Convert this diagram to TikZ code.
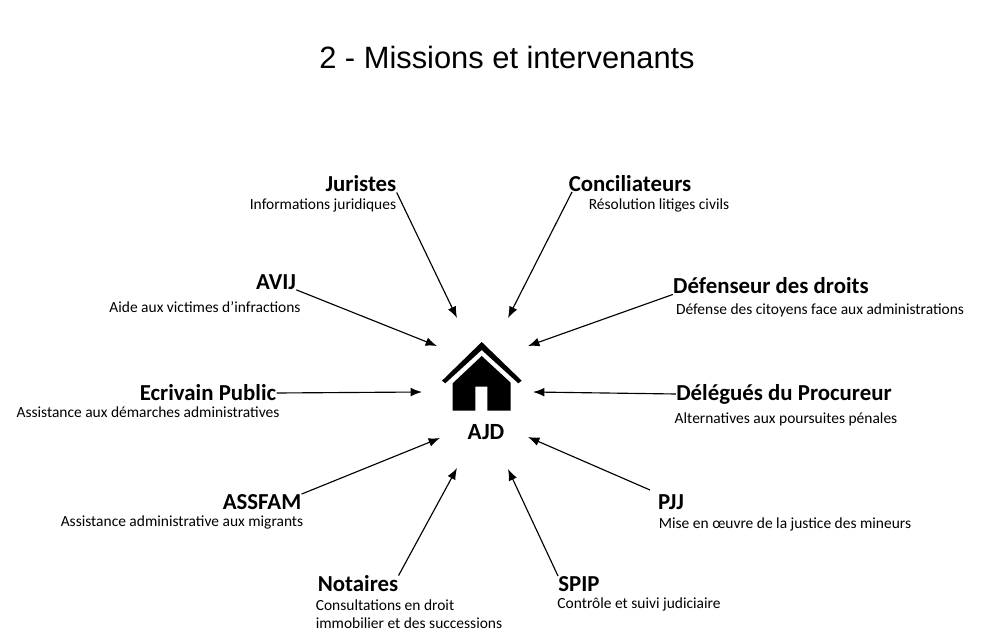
\documentclass[tikz,border=0pt]{standalone}
\usepackage{fontspec}
\setmainfont{Carlito}
\newfontfamily\titlefont{Liberation Sans}
\usetikzlibrary{arrows.meta}

\tikzset{
	titre/.style={inner sep=0pt,font=\bfseries\fontsize{13pt}{15pt}\selectfont},
	detail/.style={inner sep=0pt,align=left,font=\fontsize{8.8pt}{10.5pt}\selectfont},
	fleche/.style={-{Latex[length=6.5pt,width=5pt]},line width=0.65pt}
}

\begin{document}
\begin{tikzpicture}[x=0.2mm,y=-0.2mm]
	\useasboundingbox (0,0) rectangle (1000,635);
	\node (title) at (507,57) [inner sep=0pt,font=\titlefont\fontsize{17.55pt}{20pt}\selectfont] {2 - Missions et intervenants};
	% maison
	\fill (481.7,342) -- (442,380.7) -- (445.3,383.3) -- (481.7,350) -- (518.3,383.3) -- (521.7,380.7) -- cycle;
	\fill (481.7,356) -- (452.7,383.3) -- (452.7,410.7) -- (475.3,410.7) -- (475.3,386.7) -- (487.3,386.7) -- (487.3,410.7) -- (510.7,410.7) -- (510.7,382.7) -- cycle;
	\node (ajd) at (486,432) [titre,font=\bfseries\fontsize{13.2pt}{15pt}\selectfont] {AJD};
	% intervenants
	\node (jur) at (361,184) [titre] {Juristes};
	\node (jurd) at (323,205) [detail] {Informations juridiques};
	\node (con) at (630,184) [titre] {Conciliateurs};
	\node (cond) at (659,205) [detail] {Résolution litiges civils};
	\node (avij) at (276,282) [titre] {AVIJ};
	\node (avijd) at (205,307) [detail] {Aide aux victimes d'infractions};
	\node (def) at (771,286) [titre] {Défenseur des droits};
	\node (defd) at (820,310) [detail] {Défense des citoyens face aux administrations};
	\node (ecr) at (208,393) [titre] {Ecrivain Public};
	\node (ecrd) at (148,412) [detail] {Assistance aux démarches administratives};
	\node (del) at (784,394) [titre] {Délégués du Procureur};
	\node (deld) at (786,419) [detail] {Alternatives aux poursuites pénales};
	\node (ass) at (262,502) [titre] {ASSFAM};
	\node (assd) at (182,522) [detail] {Assistance administrative aux migrants};
	\node (pjj) at (671,502) [titre] {PJJ};
	\node (pjjd) at (785,524) [detail] {Mise en œuvre de la justice des mineurs};
	\node (not) at (358,584) [titre] {Notaires};
	\node (notd) at (409,614) [detail] {Consultations en droit\\immobilier et des successions};
	\node (spip) at (579,584) [titre] {SPIP};
	\node (spipd) at (639,604) [detail] {Contrôle et suivi judiciaire};
	% bouts des fleches
	\coordinate (a1) at (457,318);
	\coordinate (a2) at (508,318);
	\coordinate (a3) at (528,346);
	\coordinate (a4) at (533,392);
	\coordinate (a5) at (528,437);
	\coordinate (a6) at (508,469);
	\coordinate (a7) at (457,468);
	\coordinate (a8) at (440,438);
	\coordinate (a9) at (422,392);
	\coordinate (a10) at (437,346);
	\coordinate (b2) at (572,192);
	\coordinate (b5) at (650,490);
	\draw[fleche] (jur.south east) -- (a1);
	\draw[fleche] (b2) -- (a2);
	\draw[fleche] (def.south west) -- (a3);
	\draw[fleche] (del.west) -- (a4);
	\draw[fleche] (b5) -- (a5);
	\draw[fleche] (spip.north west) -- (a6);
	\draw[fleche] (not.north east) -- (a7);
	\draw[fleche] (ass.north east) -- (a8);
	\draw[fleche] (ecr.east) -- (a9);
	\draw[fleche] (avij.south east) -- (a10);
\end{tikzpicture}
\end{document}
